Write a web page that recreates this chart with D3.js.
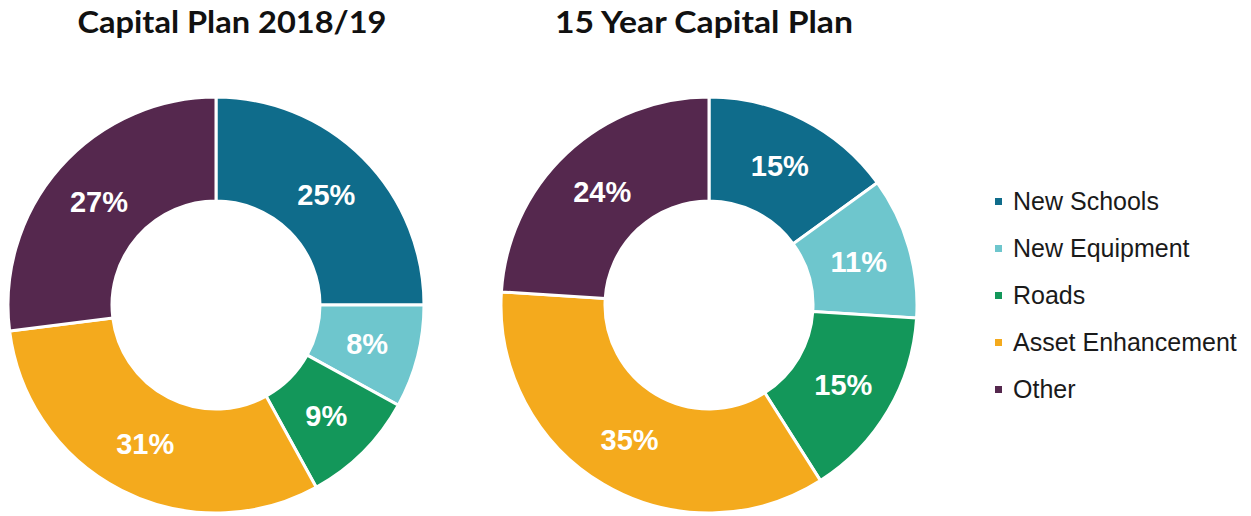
<!DOCTYPE html>
<html><head><meta charset="utf-8">
<script src="https://cdn.jsdelivr.net/npm/d3@7"></script>
<style>body{margin:0;background:#fff;}svg{display:block;}</style>
</head><body>
<script>
const categories = ["New Schools", "New Equipment", "Roads", "Asset Enhancement", "Other"];
const colors = ["#0f6c8b", "#6ec6cd", "#13975a", "#f4aa1d", "#55284e"];
const plan2018 = [25, 8, 9, 31, 27];
const plan15yr = [15, 11, 15, 35, 24];
const titles = ["Capital Plan 2018/19", "15 Year Capital Plan"];

const W = 1251, H = 516;
const svg = d3.select("body").append("svg").attr("width", W).attr("height", H);

const color = d3.scaleOrdinal().domain(categories).range(colors);
const pie = d3.pie().sort(null).value(d => d.v);
const rOuter = 208, rInner = 104;
const arc = d3.arc().innerRadius(rInner).outerRadius(rOuter);
const labelArc = d3.arc().innerRadius((rInner + rOuter) / 2).outerRadius((rInner + rOuter) / 2);

const charts = [
  {vals: plan2018, cx: 216, cy: 305, tx: 232, tw: 309},
  {vals: plan15yr, cx: 709, cy: 305, tx: 704, tw: 298}
];

charts.forEach((c, i) => {
  const data = categories.map((k, j) => ({k, v: c.vals[j]}));
  const g = svg.append("g").attr("transform", `translate(${c.cx},${c.cy})`);
  const arcs = pie(data);
  g.selectAll("path").data(arcs).join("path")
    .attr("d", arc)
    .attr("fill", d => color(d.data.k))
    .attr("stroke", "#fff").attr("stroke-width", 3).attr("stroke-linejoin", "miter");
  g.selectAll("text").data(arcs).join("text")
    .attr("transform", d => `translate(${labelArc.centroid(d)})`)
    .attr("text-anchor", "middle").attr("dy", "0.36em")
    .attr("font-family", "Liberation Sans, Arial, sans-serif")
    .attr("font-weight", "bold").attr("font-size", 29)
    .attr("fill", "#fff")
    .text(d => d.data.v + "%");
  svg.append("text")
    .attr("x", c.tx).attr("y", 33)
    .attr("text-anchor", "middle")
    .attr("font-family", "Lato, 'Open Sans', sans-serif")
    .attr("font-weight", "bold").attr("font-size", 31)
    .attr("fill", "#111")
    .attr("textLength", c.tw).attr("lengthAdjust", "spacingAndGlyphs")
    .text(titles[i]);
});

const leg = svg.append("g").attr("transform", "translate(995,201)");
const y = d3.scalePoint().domain(categories).range([0, 188]);
const items = leg.selectAll("g").data(categories).join("g")
  .attr("transform", d => `translate(0,${y(d)})`);
items.append("rect").attr("x", 0).attr("y", -3).attr("width", 7).attr("height", 7)
  .attr("fill", d => color(d));
items.append("text").attr("x", 18).attr("y", 0).attr("dy", "0.36em")
  .attr("font-family", "Liberation Sans, Arial, sans-serif")
  .attr("font-size", 25).attr("fill", "#1a1a1a")
  .text(d => d);
</script>
</body></html>
